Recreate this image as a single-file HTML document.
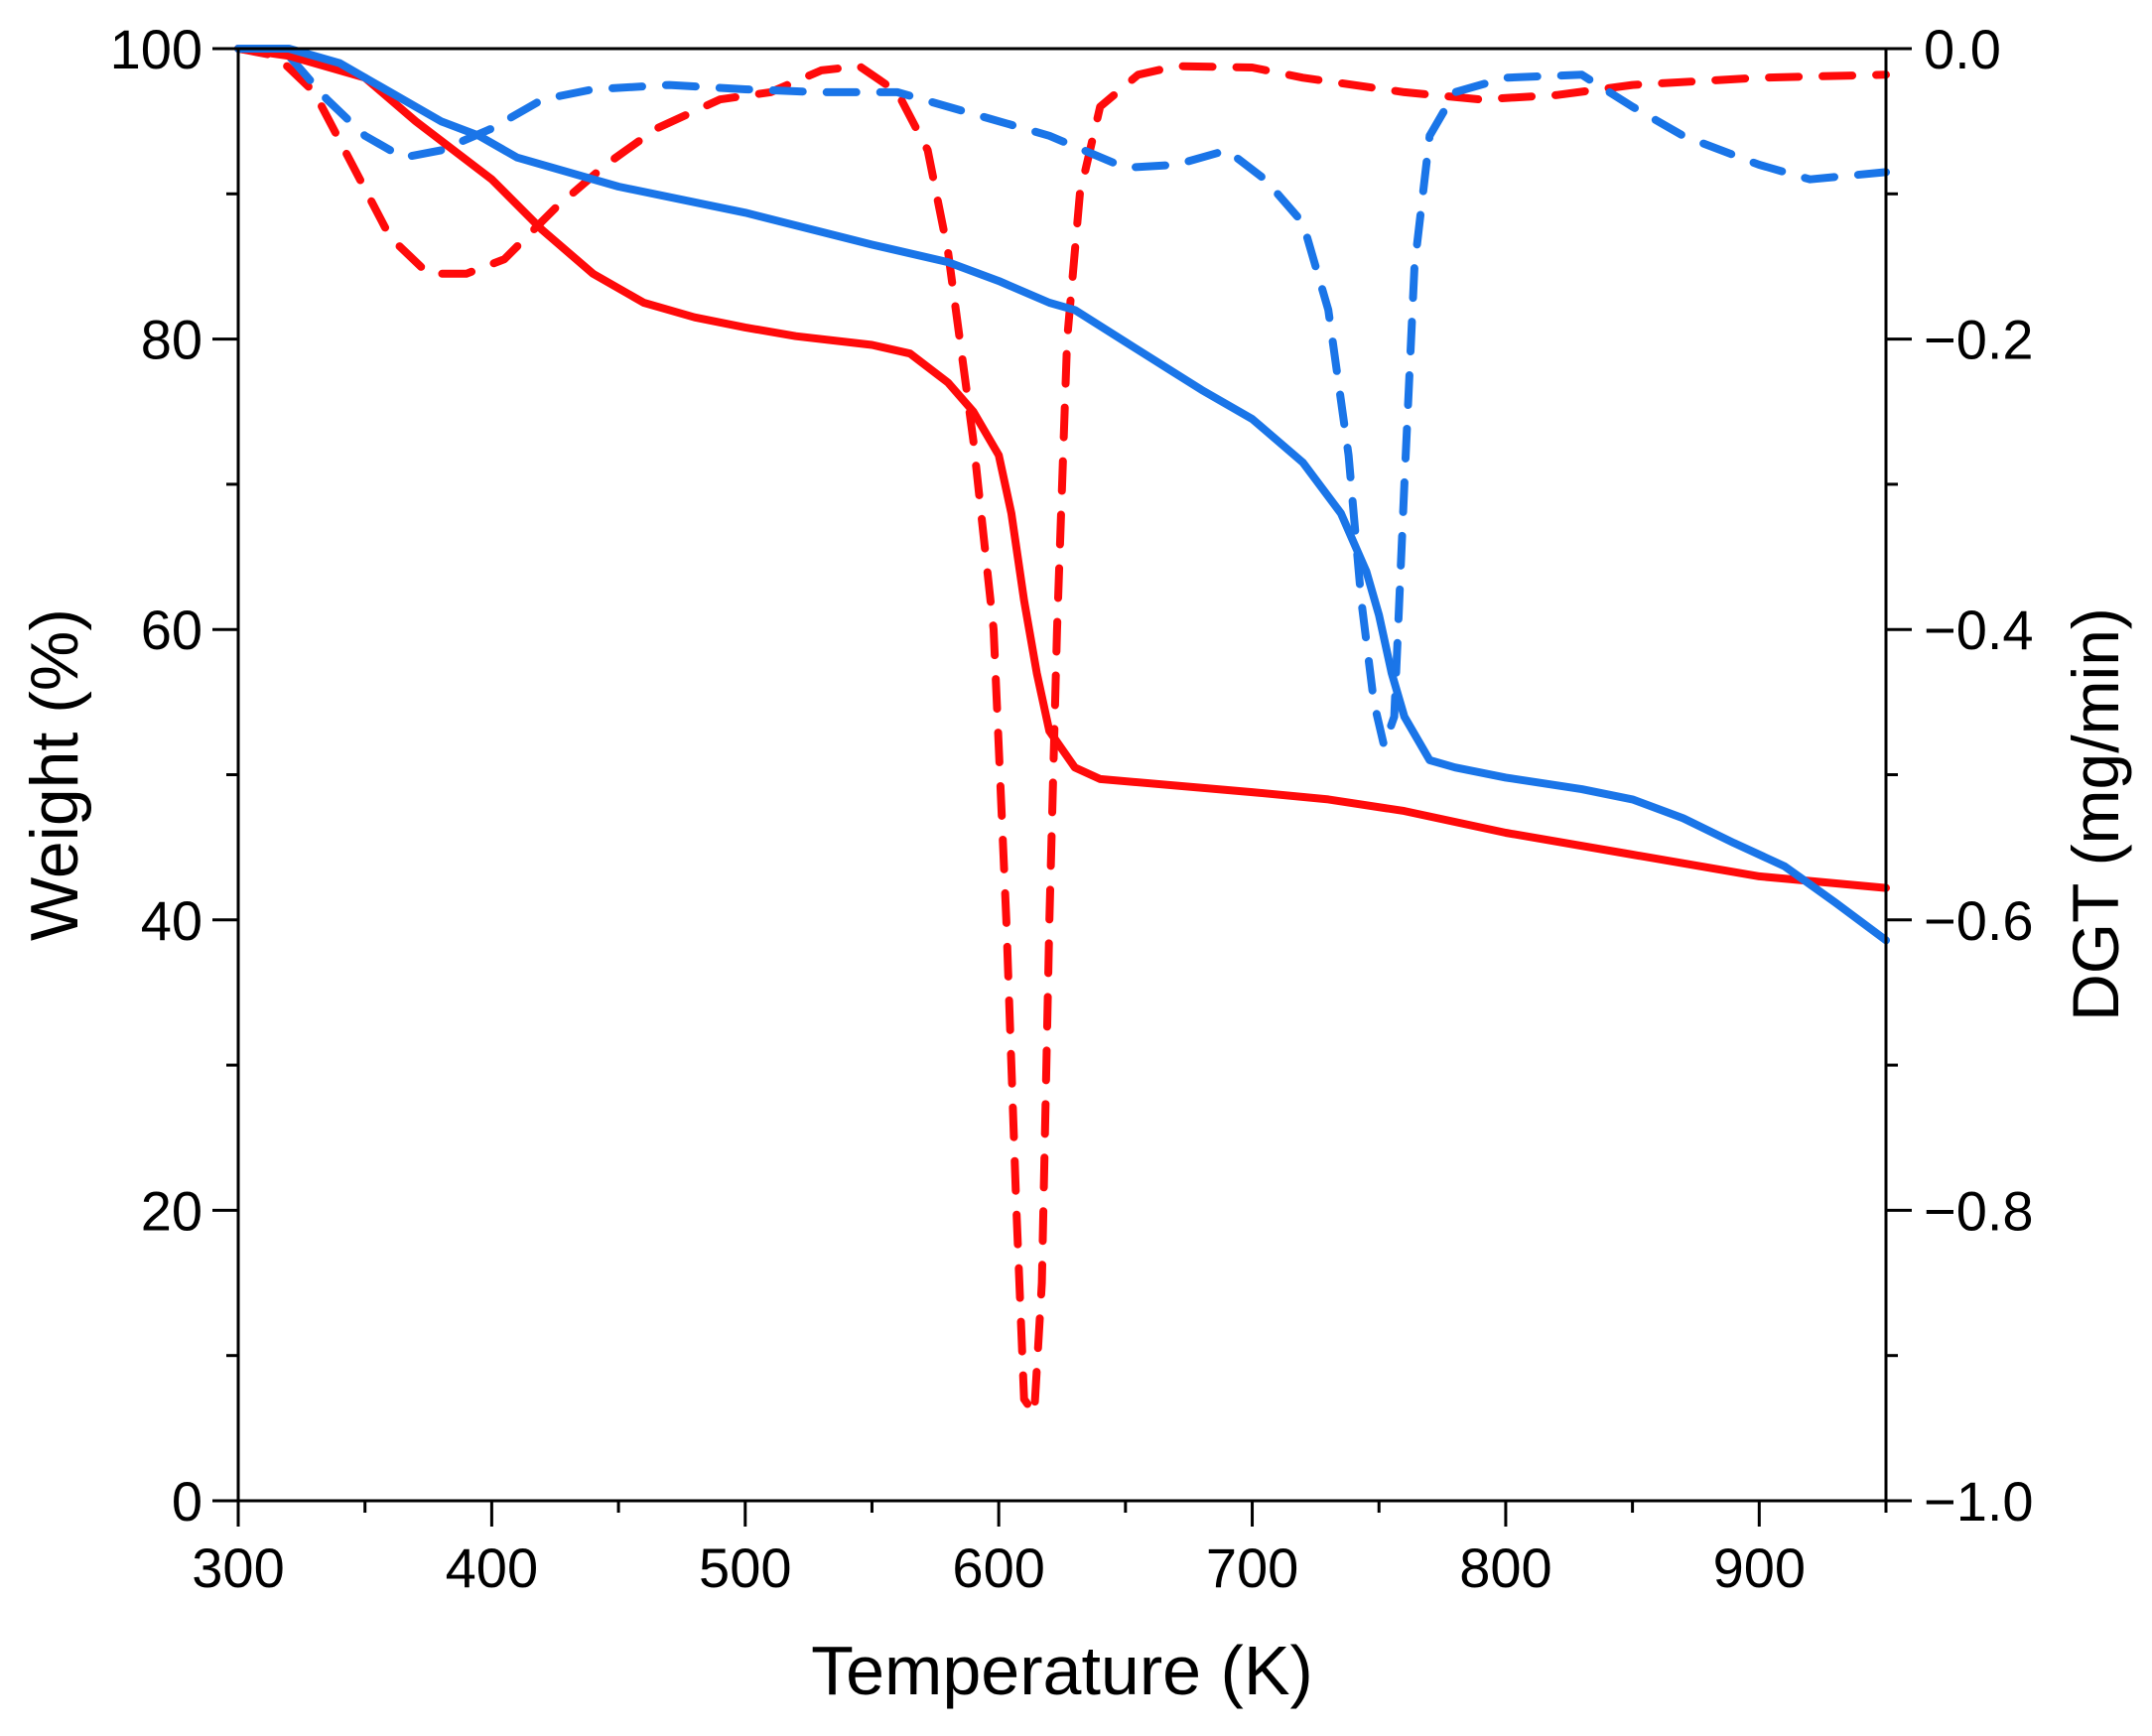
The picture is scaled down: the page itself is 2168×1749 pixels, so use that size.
<!DOCTYPE html>
<html><head><meta charset="utf-8"><style>
body{margin:0;background:#fff}
svg text{font-family:"Liberation Sans",Arial,sans-serif;fill:#000}
</style></head><body>
<svg id="chart" width="2168" height="1744" viewBox="0 0 2168 1744" xmlns="http://www.w3.org/2000/svg"></svg>
<script>
const xTicks=[300,400,500,600,700,800,900];
const yTicks=[0,20,40,60,80,100];
const y2Ticks=[0,-0.2,-0.4,-0.6,-0.8,-1.0];
const y2Labels=["0.0","\u22120.2","\u22120.4","\u22120.6","\u22120.8","\u22121.0"];
const redWT=[300,320,350,370,400,420,440,460,480,500,520,550,565,580,590,600,605,610,615,620,630,640,700,730,760,800,850,900,950];
const redWV=[100,99.5,98,95,91,87.5,84.5,82.5,81.5,80.8,80.2,79.6,79,77,75,72,68,62,57,53,50.5,49.7,48.8,48.3,47.5,46,44.5,43,42.2];
const blueWT=[300,320,340,360,380,395,410,450,500,550,580,600,620,630,650,680,700,720,735,745,750,755,760,770,780,800,830,850,870,890,910,930,950];
const blueWV=[100,100,99,97,95,94,92.5,90.5,88.7,86.5,85.3,84,82.5,82,79.8,76.5,74.5,71.5,68,64,61,57,54,51,50.5,49.8,49,48.3,47,45.3,43.7,41.2,38.6];
const redDT=[300,315,330,345,360,375,390,405,425,445,465,490,510,530,545,560,572,580,590,598,603,607,610,614,617,620,623,627,632,640,655,670,700,720,760,790,820,850,900,950];
const redDV=[0,-0.005,-0.03,-0.08,-0.13,-0.155,-0.155,-0.145,-0.11,-0.08,-0.055,-0.035,-0.03,-0.015,-0.012,-0.03,-0.07,-0.14,-0.27,-0.4,-0.6,-0.8,-0.93,-0.94,-0.85,-0.6,-0.4,-0.2,-0.1,-0.04,-0.018,-0.012,-0.013,-0.02,-0.03,-0.035,-0.032,-0.025,-0.02,-0.018];
const blueDT=[300,320,335,350,365,380,400,420,440,470,500,530,560,590,620,650,670,690,705,720,730,738,743,748,752,756,760,764,770,780,800,830,850,870,900,920,950];
const blueDV=[0,-0.005,-0.035,-0.06,-0.075,-0.07,-0.055,-0.035,-0.028,-0.025,-0.028,-0.03,-0.03,-0.045,-0.06,-0.082,-0.08,-0.07,-0.09,-0.12,-0.18,-0.28,-0.38,-0.45,-0.48,-0.46,-0.3,-0.15,-0.06,-0.03,-0.02,-0.018,-0.04,-0.06,-0.08,-0.09,-0.085];

const L=240,R=1900,T=49,B=1512;
const sx=v=>L+(v-300)/650*(R-L);
const sy=v=>B-v/100*(B-T);
const sy2=v=>T+(-v)*(B-T);
const svg=document.getElementById('chart');
const NS="http://www.w3.org/2000/svg";
function mk(tag,attrs,parent){const e=document.createElementNS(NS,tag);for(const k in attrs)e.setAttribute(k,attrs[k]);(parent||svg).appendChild(e);return e;}

function series(ts,vs,fy,color,dash,name){
  const d=ts.map((t,i)=>(i?'L':'M')+sx(t).toFixed(1)+','+fy(vs[i]).toFixed(1)).join('');
  const p=mk('path',{d:d,fill:'none',stroke:color,'stroke-width':8,'stroke-linejoin':'round','stroke-linecap':'round'});
  if(dash)p.setAttribute('stroke-dasharray','30 24');
  
  
}
series(redDT,redDV,sy2,'#ff0a0a',true,'red-dgt-line');
series(blueDT,blueDV,sy2,'#1a75e8',true,'blue-dgt-line');
series(redWT,redWV,sy,'#ff0a0a',false,'red-weight-line');
series(blueWT,blueWV,sy,'#1a75e8',false,'blue-weight-line');

const ax=mk('path',{d:`M${L},${T}H${R+26}M${L},${T}V${B+26}M${R},${T}V${B}M${L-26},${B}H${R}`,stroke:'#000','stroke-width':3,fill:'none'});


for(let v=300;v<=950;v+=50){
  const major=v%100===0;
  mk('line',{x1:sx(v),x2:sx(v),y1:B,y2:B+(major?26:12),stroke:'#000','stroke-width':3});
}
xTicks.forEach(v=>{
  const t=mk('text',{x:sx(v),y:B+87,'font-size':56,'text-anchor':'middle'});
  t.textContent=v;
  
  
});
for(let v=0;v<=100;v+=10){
  const major=v%20===0;
  mk('line',{x1:L,x2:L-(major?26:12),y1:sy(v),y2:sy(v),stroke:'#000','stroke-width':3});
  mk('line',{x1:R,x2:R+(major?26:12),y1:sy(v),y2:sy(v),stroke:'#000','stroke-width':3});
}
yTicks.forEach(v=>{
  const t=mk('text',{x:L-36,y:sy(v)+20,'font-size':56,'text-anchor':'end'});
  t.textContent=v;
  
  
});
y2Ticks.forEach((v,i)=>{
  const t=mk('text',{x:R+38,y:sy2(v)+20,'font-size':56,'text-anchor':'start'});
  t.textContent=y2Labels[i];
  
  
});
const xt=mk('text',{x:(L+R)/2,y:1707,'font-size':70,'text-anchor':'middle'});
xt.textContent='Temperature (K)';


const yt=mk('text',{x:0,y:0,'font-size':68,'text-anchor':'middle',transform:`translate(78,${(T+B)/2}) rotate(-90)`});
yt.textContent='Weight (%)';


const y2t=mk('text',{x:0,y:0,'font-size':66,'text-anchor':'middle',transform:`translate(2134,${(T+B)/2+40}) rotate(-90)`});
y2t.textContent='DGT (mg/min)';


</script>
</body></html>
